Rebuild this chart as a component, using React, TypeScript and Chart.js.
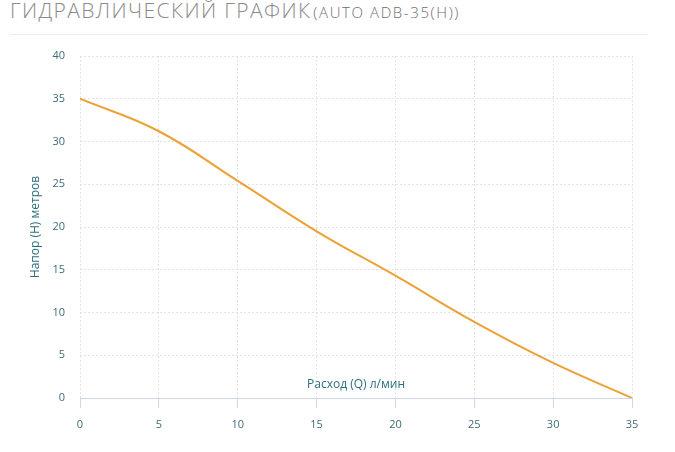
import React, { useEffect, useRef } from "react";
import { Chart, registerables } from "chart.js";

Chart.register(...registerables);

const flowValues = [0, 5, 10, 15, 20, 25, 30, 35];
const headValues = [35, 31.2, 25.4, 19.5, 14.3, 8.9, 4.1, 0];

const titleMain = "ГИДРАВЛИЧЕСКИЙ ГРАФИК";
const titleModel = "(AUTO ADB-35(H))";
const xTitle = "Расход (Q) л/мин";
const yTitle = "Напор (H) метров";

const FONT = "'Open Sans', 'DejaVu Sans', sans-serif";
const TICK_COLOR = "#3d6b78";
const TITLE_COLOR = "#2b6f7e";
const GRID_COLOR = "#e3e3e3";
const AXIS_COLOR = "#ccd6eb";

export default function App() {
  const canvasRef = useRef<HTMLCanvasElement | null>(null);

  useEffect(() => {
    const canvas = canvasRef.current;
    if (!canvas) return;
    const points = flowValues.map((x, i) => ({ x, y: headValues[i] }));
    const chart = new Chart(canvas, {
      type: "line",
      data: {
        datasets: [
          {
            data: points,
            borderColor: "#eda135",
            backgroundColor: "#eda135",
            borderWidth: 2,
            pointRadius: 0,
            tension: 0.4,
            fill: false,
          },
        ],
      },
      options: {
        animation: false,
        responsive: false,
        maintainAspectRatio: false,
        layout: { padding: { left: 0, right: 43, top: 12, bottom: 0 } },
        plugins: {
          legend: { display: false },
          tooltip: { enabled: false },
          title: { display: false },
        },
        scales: {
          x: {
            type: "linear",
            min: 0,
            max: 35,
            afterFit: (scale: any) => {
              scale.height = 54;
            },
            ticks: {
              stepSize: 5,
              padding: 10,
              color: TICK_COLOR,
              font: { family: FONT, size: 11 },
              maxRotation: 0,
            },
            grid: {
              color: GRID_COLOR,
              lineWidth: 1,
              drawTicks: true,
              tickLength: 10,
              tickColor: AXIS_COLOR,
              tickWidth: 1,
              tickBorderDash: [],
            },
            border: {
              display: true,
              color: AXIS_COLOR,
              width: 1,
              dash: [2, 2],
            },
            title: {
              display: true,
              text: xTitle,
              color: TITLE_COLOR,
              font: { family: FONT, size: 12 },
              padding: { top: 0, bottom: 60 },
            },
          },
          y: {
            type: "linear",
            min: 0,
            max: 40,
            afterFit: (scale: any) => {
              scale.width = 80;
            },
            ticks: {
              stepSize: 5,
              padding: 0,
              color: TICK_COLOR,
              font: { family: FONT, size: 11 },
            },
            grid: {
              color: GRID_COLOR,
              lineWidth: 1,
              drawTicks: true,
              tickLength: 15,
              tickColor: "rgba(0,0,0,0)",
              tickBorderDash: [],
            },
            border: {
              display: false,
              dash: [2, 2],
            },
            title: {
              display: true,
              text: yTitle,
              color: TITLE_COLOR,
              font: { family: FONT, size: 12 },
              padding: { top: 28, bottom: 0 },
            },
          },
        },
      },
    });
    return () => chart.destroy();
  }, []);

  return (
    <div style={{ position: "absolute", left: 0, top: 0, width: 675, height: 452, background: "#fff", overflow: "hidden" }}>
      <div
        style={{
          position: "absolute",
          left: 10,
          top: -2,
          whiteSpace: "nowrap",
          lineHeight: "24px",
          fontFamily: FONT,
          fontWeight: 300,
          color: "#8a8a8a",
        }}
      >
        <span style={{ fontSize: 21, letterSpacing: "1.4px" }}>{titleMain}</span>
        <span style={{ fontSize: 15, letterSpacing: "1.6px", color: "#6e6e6e", marginLeft: 2 }}>{titleModel}</span>
      </div>
      <div
        style={{
          position: "absolute",
          left: 10,
          top: 34,
          width: 638,
          height: 1,
          background: "#ececec",
        }}
      />
      <canvas
        ref={canvasRef}
        width={675}
        height={408}
        style={{ position: "absolute", left: 0, top: 44, width: 675, height: 408 }}
      />
    </div>
  );
}
